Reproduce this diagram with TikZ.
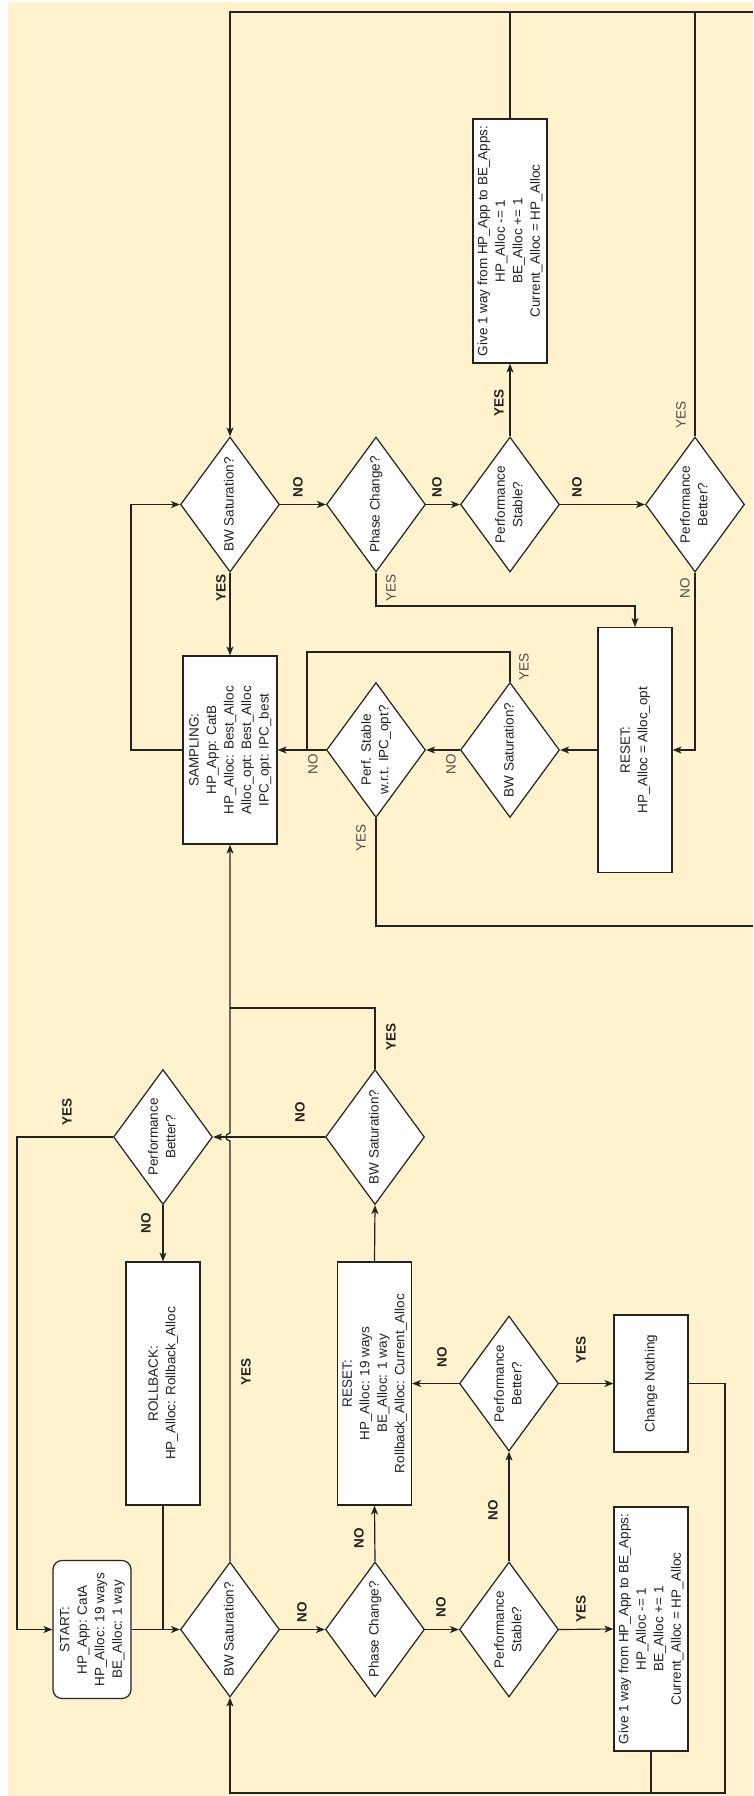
\documentclass[tikz,border=0pt]{standalone}
\usepackage{fontspec}
\setmainfont{Liberation Sans}
\usetikzlibrary{shapes.geometric,arrows.meta}
\definecolor{bg}{HTML}{FFF2CC}
\definecolor{lc}{HTML}{222222}
\newcommand{\rt}[1]{\rotatebox{90}{\begin{tabular}{@{}c@{}}#1\end{tabular}}}
\tikzset{
  wire/.style={line width=1.2pt, draw=lc},
  arr/.style={line width=1.2pt, draw=lc, -{Stealth[length=9pt,width=7pt,inset=2.5pt]}},
  box/.style={draw=lc, line width=1.2pt, fill=white, inner sep=0pt, text=lc,
    font=\fontsize{13.5}{17.5}\selectfont},
  dia/.style={diamond, draw=lc, line width=1.2pt, fill=white, inner sep=0pt,
    minimum width=99pt, minimum height=135pt},
  dtxt/.style={inner sep=0pt, text=lc, font=\fontsize{13.5}{17.5}\selectfont},
  lblb/.style={inner sep=0pt, rotate=90, text=lc, font=\bfseries\fontsize{13.5}{16}\selectfont},
  lbln/.style={inner sep=0pt, rotate=90, text=black!70, font=\fontsize{13.5}{16}\selectfont},
}
\begin{document}
\begin{tikzpicture}[x=1pt,y=-1pt]
\useasboundingbox (0,0) rectangle (753,1796);
\fill[white] (0,0) rectangle (753,1796);
\fill[bg] (8,2) rectangle (753,1796);

% ---------- Category B (top) ----------
\node[dia, label={[dtxt]center:\rt{BW Saturation?}}] (bwB) at (230,504.5) {};
\node[dia, label={[dtxt]center:\rt{Phase Change?}}] (phB) at (376,504.5) {};
\node[dia, label={[dtxt]center:\rt{Performance\\Stable?}}] (stB) at (510,504.5) {};
\node[dia, label={[dtxt]center:\rt{Performance\\Better?}}] (btB) at (695,504.5) {};
\node[box, minimum width=74pt, minimum height=244pt] (giveB) at (510,241)
  {\rt{Give 1 way from HP\_App to BE\_Apps:\\HP\_Alloc -= 1\\BE\_Alloc += 1\\Current\_Alloc = HP\_Alloc}};
\node[box, minimum width=94pt, minimum height=188pt] (sampB) at (230,750)
  {\rt{SAMPLING:\\HP\_App: CatB\\HP\_Alloc: Best\_Alloc\\Alloc\_opt: Best\_Alloc\\IPC\_opt: IPC\_best}};
\node[box, minimum width=74pt, minimum height=245pt] (resetB) at (635,750)
  {\rt{RESET:\\HP\_Alloc = Alloc\_opt}};
\node[dia, label={[dtxt]center:\rt{BW Saturation?}}] (bw2B) at (510,750) {};
\node[dia, label={[dtxt]center:\rt{Perf. Stable\\w.r.t. IPC\_opt?}}] (pswB) at (376,750) {};

\coordinate (tr) at (753,12);
\coordinate (tl) at (230,12);
\coordinate (c7) at (500,606);
\coordinate (c12) at (307,652);
\coordinate (c12b) at (307,750);
\coordinate (c13) at (131,750);
\coordinate (c14) at (753,926);

\draw[arr] (tr) -- (tl) -- (bwB.north);
\draw[wire] (giveB.north) -- (giveB.north |- tl);
\draw[wire] (btB.north) -- (btB.north |- tl);
\draw[arr] (bwB.east) -- (phB.west);
\draw[arr] (phB.east) -- (stB.west);
\draw[arr] (stB.east) -- (btB.west);
\draw[arr] (stB.north) -- (giveB.south);
\draw[arr] (bwB.south) -- (sampB.north);
\draw[arr] (phB.south) |- (c7) -| (resetB.north);
\draw[arr] (btB.south) |- (resetB.east);
\draw[arr] (resetB.west) -- (bw2B.east);
\draw[arr] (bw2B.west) -- (pswB.east);
\draw[arr] (pswB.west) -- (sampB.east);
\draw[wire] (bw2B.north) |- (c12) -- (c12b);
\draw[arr] (sampB.west) -- (c13) |- (bwB.west);
\draw[wire] (pswB.south) |- (c14);

\node[lblb] (l1) at (499,403) {YES};
\node[lbln] (l2) at (681,415) {YES};
\node[lblb] (l3) at (298,487) {NO};
\node[lblb] (l4) at (437,487) {NO};
\node[lblb] (l5) at (577,487) {NO};
\node[lblb] (l6) at (221,588) {YES};
\node[lbln] (l7) at (391,588) {YES};
\node[lbln] (l8) at (685,588) {NO};
\node[lbln] (l9) at (451,764) {NO};
\node[lbln] (l10) at (313,764) {NO};
\node[lbln] (l11) at (524,667) {YES};
\node[lbln] (l12) at (361,838) {YES};

% ---------- Category A (bottom) ----------
\node[dia, label={[dtxt]center:\rt{BW Saturation?}}] (bwA1) at (230,1629.5) {};
\node[dia, label={[dtxt]center:\rt{Phase Change?}}] (phA) at (375,1629.5) {};
\node[dia, label={[dtxt]center:\rt{Performance\\Stable?}}] (stA) at (509,1629.5) {};
\node[box, rounded corners=9pt, minimum width=78pt, minimum height=138pt] (startA) at (92,1629.5)
  {\rt{START:\\HP\_App: CatA\\HP\_Alloc: 19 ways\\BE\_Alloc: 1 way}};
\node[box, minimum width=74pt, minimum height=244pt] (giveA) at (651,1629)
  {\rt{Give 1 way from HP\_App to BE\_Apps:\\HP\_Alloc -= 1\\BE\_Alloc += 1\\Current\_Alloc = HP\_Alloc}};
\node[box, minimum width=74pt, minimum height=137pt] (changeA) at (651,1383.5)
  {\rt{Change Nothing}};
\node[dia, label={[dtxt]center:\rt{Performance\\Better?}}] (btA2) at (509,1383.5) {};
\node[box, minimum width=74pt, minimum height=243pt] (resetA) at (374.5,1383.5)
  {\rt{RESET:\\HP\_Alloc: 19 ways\\BE\_Alloc: 1 way\\Rollback\_Alloc: Current\_Alloc}};
\node[box, minimum width=74pt, minimum height=243pt] (rollA) at (163,1383.5)
  {\rt{ROLLBACK:\\HP\_Alloc: Rollback\_Alloc}};
\node[dia, label={[dtxt]center:\rt{BW Saturation?}}] (bwA2) at (375,1137) {};
\node[dia, label={[dtxt]center:\rt{Performance\\Better?}}] (btA1) at (163,1137) {};

\coordinate (h1) at (230,1141);
\coordinate (h2) at (230,1133);
\coordinate (c25a) at (725,1383.5);
\coordinate (c25b) at (725,1793);
\coordinate (c29) at (230,1008);
\coordinate (c31) at (17,1137);

\draw[arr] (startA.east) -- (bwA1.west);
\draw[wire] (rollA.south) -- (rollA.south |- startA.east);
\draw[arr] (bwA1.east) -- (phA.west);
\draw[arr] (phA.east) -- (stA.west);
\draw[arr] (stA.east) -- (giveA.west);
\draw[arr] (phA.north) -- (resetA.south);
\draw[arr] (stA.north) -- (btA2.south);
\draw[arr] (btA2.west) -- (resetA.east);
\draw[arr] (btA2.east) -- (changeA.west);
\draw[arr] (changeA.east) -- (c25a) -- (c25b) -| (bwA1.south);
\draw[wire] (giveA.south) -- (giveA.south |- c25b);
\draw[arr] (resetA.north) -- (bwA2.south);
\draw[arr] (bwA2.west) -- (btA1.east);
\draw[wire] (bwA2.north) |- (c29);
\draw[arr] (btA1.south) -- (rollA.north);
\draw[arr] (btA1.west) -- (c31) |- (startA.west);
\draw[arr] (bwA1.north) -- (h1) .. controls (224.5,1140) and (224.5,1134) .. (h2) -- (sampB.south);

\node[lblb] (m1) at (67,1112) {YES};
\node[lblb] (m2) at (146,1223) {NO};
\node[lblb] (m3) at (300,1112) {NO};
\node[lblb] (m4) at (391,1037) {YES};
\node[lblb] (m5) at (246,1372) {YES};
\node[lblb] (m6) at (359,1538) {NO};
\node[lblb] (m7) at (493,1510) {NO};
\node[lblb] (m8) at (442,1357) {NO};
\node[lblb] (m9) at (581,1350) {YES};
\node[lblb] (m10) at (302,1612) {NO};
\node[lblb] (m11) at (441,1607) {NO};
\node[lblb] (m12) at (581,1609) {YES};
\end{tikzpicture}
\end{document}
